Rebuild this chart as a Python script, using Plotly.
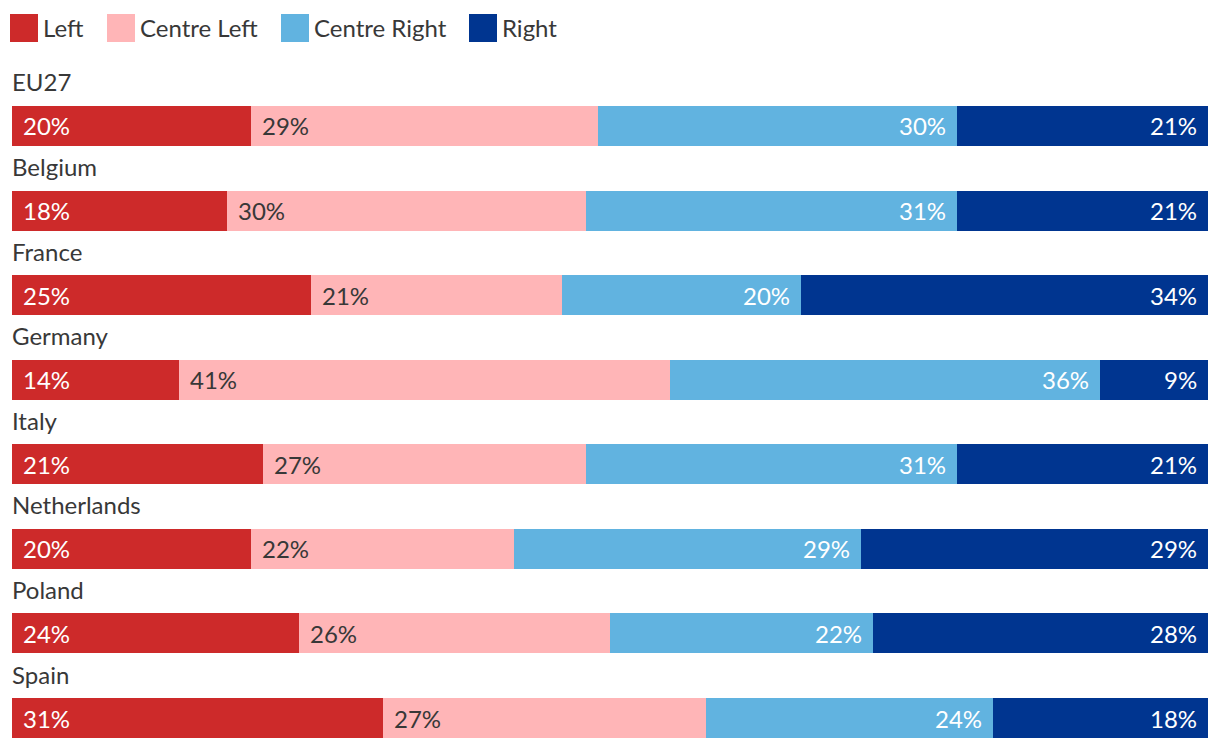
import plotly.graph_objects as go

countries = ["EU27", "Belgium", "France", "Germany", "Italy", "Netherlands", "Poland", "Spain"]
series_names = ["Left", "Centre Left", "Centre Right", "Right"]
left = [20, 18, 25, 14, 21, 20, 24, 31]
centre_left = [29, 30, 21, 41, 27, 22, 26, 27]
centre_right = [30, 31, 20, 36, 31, 29, 22, 24]
right = [21, 21, 34, 9, 21, 29, 28, 18]

values = [left, centre_left, centre_right, right]
colors = ["#CD2A2A", "#FFB5B7", "#61B3E0", "#003590"]
text_colors = ["#FFFFFF", "#383838", "#FFFFFF", "#FFFFFF"]
anchors = ["start", "start", "end", "end"]

W, H = 1220, 750
ML, MR, MT, MB = 12, 12, 60, 0
PW, PH = W - ML - MR, H - MT - MB
FONT = "Lato, 'Noto Sans', sans-serif"
DARK = "#383838"
FS = 24


def px_x(px):
    return (px - ML) / PW


def px_y(py):
    return (H - MB - py) / PH


fig = go.Figure()
for name, vals, col in zip(series_names, values, colors):
    fig.add_trace(go.Bar(
        y=countries, x=vals, name=name, orientation="h",
        marker=dict(color=col, line=dict(width=0)),
        hoverinfo="x+name", showlegend=False,
    ))

annotations = []
# value labels
for i, c in enumerate(countries):
    start = 0
    for s, vals in enumerate(values):
        v = vals[i]
        end = start + v
        if anchors[s] == "start":
            ax, xa, xs = start, "left", 9
        else:
            ax, xa, xs = end, "right", -9
        annotations.append(dict(
            x=ax, y=c, xref="x", yref="y", text=f"{v}%", showarrow=False,
            xanchor=xa, yanchor="middle", xshift=xs,
            font=dict(family=FONT, size=FS, color=text_colors[s]),
        ))
        start = end
    # country label above the bar
    annotations.append(dict(
        x=0, y=c, xref="x", yref="y", text=c, showarrow=False,
        xanchor="left", yanchor="middle", yshift=44, xshift=-2,
        font=dict(family=FONT, size=FS, color=DARK),
    ))

# custom legend
legend_sq = [10, 107, 281, 469]
shapes = []
for s, name in enumerate(series_names):
    x0 = legend_sq[s]
    shapes.append(dict(
        type="rect", xref="paper", yref="paper",
        x0=px_x(x0), x1=px_x(x0 + 28), y0=px_y(42), y1=px_y(14),
        fillcolor=colors[s], line=dict(width=0),
    ))
    annotations.append(dict(
        x=px_x(x0 + 31), y=px_y(28), xref="paper", yref="paper",
        text=name, showarrow=False, xanchor="left", yanchor="middle",
        font=dict(family=FONT, size=FS, color=DARK),
    ))

fig.update_layout(
    width=W, height=H,
    margin=dict(l=ML, r=MR, t=MT, b=MB, pad=0),
    barmode="stack", bargap=0.527,
    plot_bgcolor="white", paper_bgcolor="white",
    xaxis=dict(range=[0, 100], visible=False, fixedrange=True),
    yaxis=dict(type="category", categoryorder="array", categoryarray=countries,
               range=[7.378, -0.78], visible=False, fixedrange=True),
    annotations=annotations, shapes=shapes,
    font=dict(family=FONT),
)

fig.write_html("out.html", config={"displayModeBar": False})
